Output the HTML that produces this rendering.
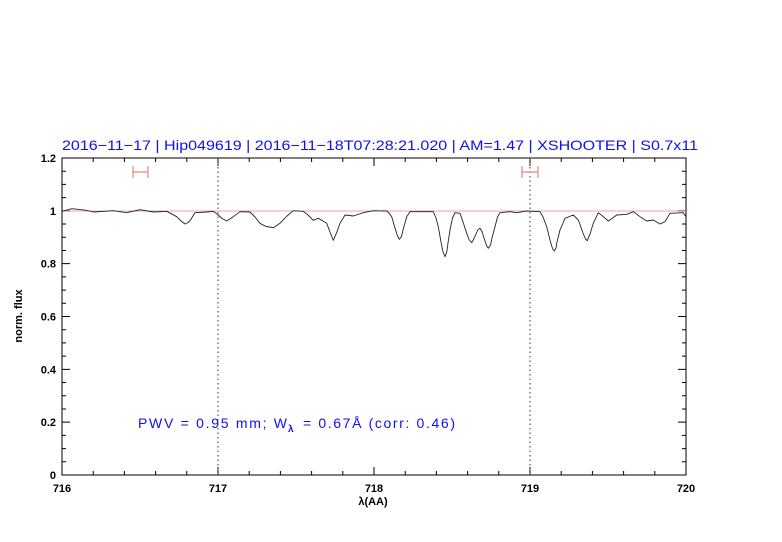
<!DOCTYPE html>
<html><head><meta charset="utf-8"><style>
html,body{margin:0;padding:0;background:#fff;}
svg{display:block;}
text{font-family:"Liberation Sans",sans-serif;}
</style></head><body>
<svg width="782" height="542" viewBox="0 0 782 542" xmlns="http://www.w3.org/2000/svg">
<text x="62" y="150" font-size="14" fill="#1010ee" textLength="636" lengthAdjust="spacingAndGlyphs">2016−11−17 | Hip049619 | 2016−11−18T07:28:21.020 | AM=1.47 | XSHOOTER | S0.7x11</text>
<rect x="62" y="158" width="624" height="317" fill="none" stroke="#000" stroke-width="1"/>
<path stroke="#000" stroke-width="1" fill="none" d="
M62 475V467M62 158V166
M93.2 475V471M93.2 158V162
M124.4 475V471M124.4 158V162
M155.6 475V471M155.6 158V162
M186.8 475V471M186.8 158V162
M218 475V467M218 158V166
M249.2 475V471M249.2 158V162
M280.4 475V471M280.4 158V162
M311.6 475V471M311.6 158V162
M342.8 475V471M342.8 158V162
M374 475V467M374 158V166
M405.2 475V471M405.2 158V162
M436.4 475V471M436.4 158V162
M467.6 475V471M467.6 158V162
M498.8 475V471M498.8 158V162
M530 475V467M530 158V166
M561.2 475V471M561.2 158V162
M592.4 475V471M592.4 158V162
M623.6 475V471M623.6 158V162
M654.8 475V471M654.8 158V162
M686 475V467M686 158V166
M62 461.79H66M686 461.79H682
M62 448.58H66M686 448.58H682
M62 435.38H66M686 435.38H682
M62 422.17H70M686 422.17H678
M62 408.96H66M686 408.96H682
M62 395.75H66M686 395.75H682
M62 382.54H66M686 382.54H682
M62 369.33H70M686 369.33H678
M62 356.13H66M686 356.13H682
M62 342.92H66M686 342.92H682
M62 329.71H66M686 329.71H682
M62 316.5H70M686 316.5H678
M62 303.29H66M686 303.29H682
M62 290.08H66M686 290.08H682
M62 276.88H66M686 276.88H682
M62 263.67H70M686 263.67H678
M62 250.46H66M686 250.46H682
M62 237.25H66M686 237.25H682
M62 224.04H66M686 224.04H682
M62 210.83H70M686 210.83H678
M62 197.63H66M686 197.63H682
M62 184.42H66M686 184.42H682
M62 171.21H66M686 171.21H682"/>
<line x1="218" y1="158" x2="218" y2="475" stroke="#333" stroke-width="1" stroke-dasharray="1.5,3"/>
<line x1="530" y1="158" x2="530" y2="475" stroke="#333" stroke-width="1" stroke-dasharray="1.5,3"/>
<line x1="62" y1="211" x2="686" y2="211" stroke="#d88" stroke-width="0.8"/>
<g stroke="#f08080" stroke-width="1.2" fill="none">
<path d="M133 166V178M148 166V178M133 172H148"/>
<path d="M522 166V178M538 166V178M522 172H538"/>
</g>
<polyline fill="none" stroke="#222" stroke-width="0.9" stroke-linejoin="round" stroke-linecap="round" points="62,211 63.3,211 71.7,208.7 86.7,210.3 93.3,212 113.3,210.7 126.7,212.7 140,209.7 153.3,212 166.7,211.3 176.7,216.7 181,221 185,224 188,222.5 190,220.7 195,212.7 206.7,212 213.3,211.3 218.3,215 222,218.5 226.7,221 233.3,216.7 240,211.7 250,212 255,217 260,223.3 266,226.5 273.3,227.7 280,223.3 287,216 293.3,210.7 303.3,211.3 308,215 313.3,220.3 318.3,218.3 323,221 326.7,223.3 330,232 333.3,240.3 336.5,233 340,223.3 345,215 353.3,216 363.3,212.7 373.3,210.7 386.7,211 389.5,213.5 391.7,216.7 395,228 397.5,236 399.3,239.3 401.5,236.5 403,230 406.7,216.7 410,211.7 433.3,211.7 436,218 438.3,226.7 441,242 443,252 445,256.7 446.8,252 448,243 450,230 452.5,218 455,212.7 460,213.3 463,222 466.7,233.3 469,239.5 471.7,242.7 474,238.5 476,234 478,229.5 480,228.3 482,231.5 484,238 486.5,245.5 488.3,248.3 490.5,245 492,238 495,226.7 497.5,217 500,212.7 510,211.7 516.7,212.7 526.7,211 540,211.7 543,217 546.7,226.7 550,240 552.5,248.5 554.3,251 556,248 557,242 560,230 565,218.3 573.3,215 578.3,220 583,233 585.5,239 587.3,240.7 590,234 593.3,223.3 598.3,212.7 603.3,216.7 608.3,221 612,218.5 616.7,215 626.7,214.3 633.3,211.7 640,216.7 646.7,221 653.3,220 660,224 665,221.7 670,213.3 683.3,212.7 686,216.7"/>
<g font-size="11" font-weight="bold" fill="#000" text-anchor="middle">
<text x="62" y="492">716</text><text x="218" y="492">717</text><text x="374" y="492">718</text><text x="530" y="492">719</text><text x="686" y="492">720</text>
</g>
<g font-size="11" font-weight="bold" fill="#000" text-anchor="end">
<text x="56" y="479">0</text><text x="56" y="426.2">0.2</text><text x="56" y="373.3">0.4</text><text x="56" y="320.5">0.6</text><text x="56" y="267.7">0.8</text><text x="56" y="214.8">1</text><text x="56" y="162">1.2</text>
</g>
<text x="22" y="316" font-size="11" font-weight="bold" text-anchor="middle" transform="rotate(-90 22 316)">norm. flux</text>
<text x="373" y="505" font-size="11" font-weight="bold" text-anchor="middle">λ(AA)</text>
<g fill="#1010ee" font-size="14">
<text x="138" y="428" textLength="149" lengthAdjust="spacing">PWV = 0.95 mm; W</text>
<text x="288" y="432" font-size="10" font-weight="bold">λ</text>
<text x="303" y="428" textLength="152" lengthAdjust="spacing">= 0.67Å (corr: 0.46)</text>
</g>
</svg>
</body></html>
